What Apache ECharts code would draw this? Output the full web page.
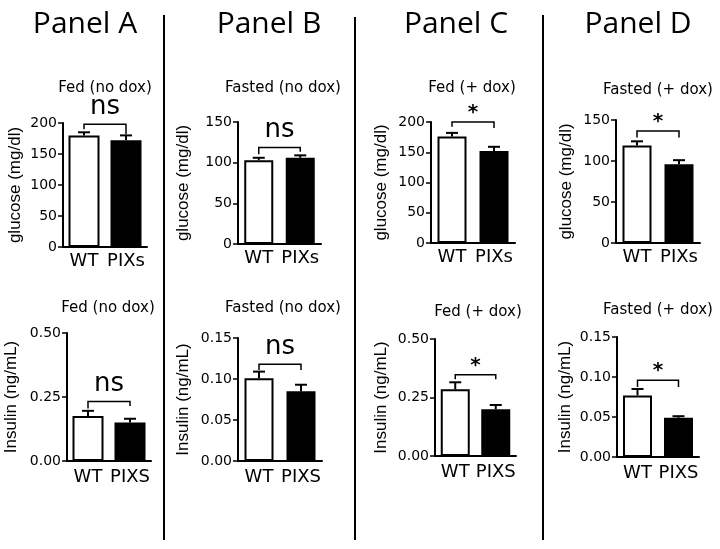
<!DOCTYPE html>
<html>
<head>
<meta charset="utf-8">
<script src="https://cdn.jsdelivr.net/npm/echarts@6/dist/echarts.min.js"></script>
<style>
html,body{margin:0;padding:0;background:#fff;}
#chart{width:720px;height:549px;}
</style>
</head>
<body>
<div id="chart"></div>
<script>
// ---------- DATA ----------
const panelHeaders = ['Panel A', 'Panel B', 'Panel C', 'Panel D'];
const conditions = ['Fed (no dox)', 'Fasted (no dox)', 'Fed (+ dox)', 'Fasted (+ dox)'];
const categoriesGlucose = ['WT', 'PIXs'];
const categoriesInsulin = ['WT', 'PIXS'];

const glucoseWT = [180, 103, 176, 119];
const glucoseWTErr = [5, 3, 6, 5];
const glucosePIX = [172, 106, 152, 96];
const glucosePIXErr = [8, 3, 7, 5];

const insulinWT = [0.176, 0.101, 0.285, 0.077];
const insulinWTErr = [0.02, 0.008, 0.03, 0.008];
const insulinPIX = [0.150, 0.085, 0.200, 0.049];
const insulinPIXErr = [0.015, 0.008, 0.018, 0.002];

const glucoseTicks = [[0, 50, 100, 150, 200], [0, 50, 100, 150], [0, 50, 100, 150, 200], [0, 50, 100, 150]];
const insulinTicks = [[0, 0.25, 0.5], [0, 0.05, 0.1, 0.15], [0, 0.25, 0.5], [0, 0.05, 0.1, 0.15]];

const glucoseSig = ['ns', 'ns', '*', '*'];
const insulinSig = ['ns', 'ns', '*', '*'];
// bracket: [top, WT leg end, PIX leg end] in data units
const glucoseBracket = [[198, 190, 182], [118.7, 110.5, 113.3], [200, 192, 190], [136.5, 128.8, 128.8]];
const insulinBracket = [[0.232, 0.205, 0.215], [0.118, 0.111, 0.111], [0.347, 0.328, 0.328], [0.096, 0.0875, 0.0875]];

// ---------- LAYOUT (pixels) ----------
const gridsTop = [
  {left: 63, top: 123, width: 84, height: 124, barW: 31, nameGap: 39},
  {left: 238, top: 122, width: 83, height: 122, barW: 29, nameGap: 46},
  {left: 431, top: 122, width: 84, height: 121, barW: 29, nameGap: 41},
  {left: 616, top: 120, width: 84, height: 123, barW: 29, nameGap: 41}
];
const gridsBottom = [
  {left: 67, top: 333, width: 84, height: 128, barW: 31, nameGap: 47},
  {left: 238, top: 338, width: 84, height: 123, barW: 29, nameGap: 46},
  {left: 435, top: 339, width: 81, height: 117, barW: 29, nameGap: 45},
  {left: 617, top: 337, width: 82, height: 120, barW: 29, nameGap: 43}
];
const headerX = [85, 269, 456, 638];
const titleTopPos = [[105, 88], [283, 88], [472, 88], [658, 90]];
const titleBottomPos = [[108, 308], [283, 308], [478, 312], [658, 310]];
const dividerX = [164, 355, 543];

const AX = 'DejaVu Sans';

const option = {
  backgroundColor: '#fff',
  animation: false,
  grid: [], xAxis: [], yAxis: [], series: [], graphic: []
};

function addPlot(g, cats, wt, wtErr, pix, pixErr, ticks, decimals, yName, sig, bracket, labelMargin) {
  const idx = option.grid.length;
  option.grid.push({left: g.left, top: g.top, width: g.width, height: g.height, containLabel: false});
  option.xAxis.push({
    type: 'category', gridIndex: idx, data: cats,
    axisLine: {lineStyle: {color: '#000', width: 2}},
    axisTick: {show: false},
    axisLabel: {color: '#000', fontFamily: AX, fontSize: 18, margin: labelMargin, interval: 0}
  });
  const step = ticks[1] - ticks[0];
  option.yAxis.push({
    type: 'value', gridIndex: idx,
    min: ticks[0], max: ticks[ticks.length - 1], interval: step,
    name: yName, nameLocation: 'middle', nameGap: g.nameGap,
    nameTextStyle: {color: '#000', fontFamily: 'Liberation Sans', fontSize: 17},
    axisLine: {show: true, lineStyle: {color: '#000', width: 2}},
    axisTick: {show: true, length: 5, lineStyle: {color: '#000', width: 1.5}},
    axisLabel: {color: '#000', fontFamily: AX, fontSize: 14, margin: 6,
      formatter: v => Number(v).toFixed(decimals)},
    splitLine: {show: false}
  });
  option.series.push({
    type: 'bar', xAxisIndex: idx, yAxisIndex: idx, barWidth: g.barW,
    data: [
      {value: wt, itemStyle: {color: '#fff', borderColor: '#000', borderWidth: 2}},
      {value: pix, itemStyle: {color: '#000', borderColor: '#000', borderWidth: 2}}
    ],
    z: 2
  });
  option.series.push({
    type: 'custom', xAxisIndex: idx, yAxisIndex: idx, z: 3,
    data: [[0, wt, wtErr], [1, pix, pixErr]],
    renderItem: function (params, api) {
      const x = api.value(0), m = api.value(1), e = api.value(2);
      const p0 = api.coord([x, m]);
      const p1 = api.coord([x, m + e]);
      return {type: 'group', children: [
        {type: 'line', shape: {x1: p0[0], y1: p0[1], x2: p1[0], y2: p1[1]}, style: {stroke: '#000', lineWidth: 2}},
        {type: 'line', shape: {x1: p1[0] - 6, y1: p1[1], x2: p1[0] + 6, y2: p1[1]}, style: {stroke: '#000', lineWidth: 2}}
      ]};
    }
  });
  option.series.push({
    type: 'custom', xAxisIndex: idx, yAxisIndex: idx, z: 3,
    data: [[0, bracket[0], bracket[1], bracket[2]]],
    renderItem: function (params, api) {
      const top = api.value(1);
      const a = api.coord([0, top]), b = api.coord([1, top]);
      const la = api.coord([0, api.value(2)]), lb = api.coord([1, api.value(3)]);
      const isStar = sig === '*';
      return {type: 'group', children: [
        {type: 'polyline', shape: {points: [[la[0], la[1]], [a[0], a[1]], [b[0], b[1]], [lb[0], lb[1]]]},
          style: {stroke: '#000', lineWidth: 1.5, fill: null}},
        {type: 'text', style: {text: sig, x: (a[0] + b[0]) / 2, y: a[1] - (isStar ? 9 : 17),
          align: 'center', verticalAlign: 'middle', fill: '#000',
          font: (isStar ? 'bold 20px ' : '26px ') + '"DejaVu Sans"'}}
      ]};
    }
  });
}

for (let i = 0; i < 4; i++) {
  addPlot(gridsTop[i], categoriesGlucose, glucoseWT[i], glucoseWTErr[i], glucosePIX[i], glucosePIXErr[i],
    glucoseTicks[i], 0, 'glucose (mg/dl)', glucoseSig[i], glucoseBracket[i], 5);
}
for (let i = 0; i < 4; i++) {
  addPlot(gridsBottom[i], categoriesInsulin, insulinWT[i], insulinWTErr[i], insulinPIX[i], insulinPIXErr[i],
    insulinTicks[i], 2, 'Insulin (ng/mL)', insulinSig[i], insulinBracket[i], 7);
}

// headers, subtitles, dividers
for (let i = 0; i < 4; i++) {
  option.graphic.push({type: 'text', x: headerX[i], y: 24, style: {text: panelHeaders[i], align: 'center', verticalAlign: 'middle', fill: '#000', font: '30px "Open Sans"'}});
  option.graphic.push({type: 'text', x: titleTopPos[i][0], y: titleTopPos[i][1], style: {text: conditions[i], align: 'center', verticalAlign: 'middle', fill: '#000', font: '15px "DejaVu Sans"'}});
  option.graphic.push({type: 'text', x: titleBottomPos[i][0], y: titleBottomPos[i][1], style: {text: conditions[i], align: 'center', verticalAlign: 'middle', fill: '#000', font: '15px "DejaVu Sans"'}});
}
dividerX.forEach((x, i) => {
  option.graphic.push({type: 'line', shape: {x1: x, y1: i === 1 ? 17 : 15, x2: x, y2: 540}, style: {stroke: '#000', lineWidth: 2}});
});

const chart = echarts.init(document.getElementById('chart'), null, {renderer: 'canvas'});
chart.setOption(option);
</script>
</body>
</html>
